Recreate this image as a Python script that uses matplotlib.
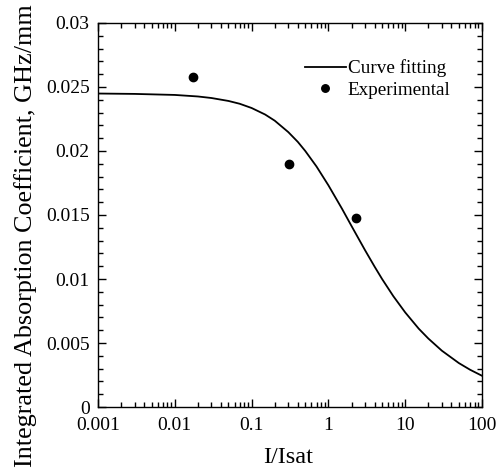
import matplotlib
matplotlib.use("Agg")
import matplotlib.pyplot as plt
from matplotlib.ticker import FixedLocator, LogLocator, MultipleLocator, NullFormatter

plt.rcParams['font.family'] = ['Liberation Serif', 'DejaVu Serif']

# Curve fitting values
fit_x = [0.001, 0.003, 0.01, 0.02, 0.03, 0.05, 0.07, 0.1, 0.15, 0.2, 0.3, 0.4, 0.5,
         0.7, 1, 1.5, 2, 3, 4, 5, 7, 10, 15, 20, 30, 50, 70, 100]
fit_y = [0.02449, 0.02446, 0.02438, 0.02426, 0.02414, 0.02391, 0.02369, 0.02336,
         0.02285, 0.02237, 0.02148, 0.02071, 0.02000, 0.01879, 0.01732, 0.01550,
         0.01414, 0.01225, 0.01096, 0.01000, 0.00866, 0.00739, 0.00612, 0.00535,
         0.00440, 0.00343, 0.00291, 0.00244]

# Experimental points
exp_x = [0.0171, 0.307, 2.29]
exp_y = [0.02576, 0.0190, 0.01474]

x_ticks = [0.001, 0.01, 0.1, 1, 10, 100]
x_tick_labels = ["0.001", "0.01", "0.1", "1", "10", "100"]
y_ticks = [0, 0.005, 0.01, 0.015, 0.02, 0.025, 0.03]
y_tick_labels = ["0", "0.005", "0.01", "0.015", "0.02", "0.025", "0.03"]

fig = plt.figure(figsize=(5.02, 4.76), dpi=100)
ax = fig.add_axes([98/502, 69/476, 384/502, 384/476])

ax.plot(fit_x, fit_y, color='black', lw=1.3, label='Curve fitting')
ax.plot(exp_x, exp_y, 'o', color='black', markersize=6, label='Experimental')

ax.set_xscale('log')
ax.set_xlim(0.001, 100)
ax.set_ylim(0, 0.03)

ax.xaxis.set_major_locator(FixedLocator(x_ticks))
ax.set_xticklabels(x_tick_labels)
ax.xaxis.set_minor_locator(LogLocator(base=10, subs=range(2, 10), numticks=20))
ax.xaxis.set_minor_formatter(NullFormatter())
ax.yaxis.set_major_locator(FixedLocator(y_ticks))
ax.set_yticklabels(y_tick_labels)
ax.yaxis.set_minor_locator(MultipleLocator(0.001))

ax.tick_params(which='both', direction='in', top=True, right=True, width=1, labelsize=14)
ax.tick_params(which='major', length=6)
ax.tick_params(which='minor', length=3.5)
ax.tick_params(axis='x', which='major', pad=7)
ax.tick_params(axis='y', which='major', pad=6)
for s in ax.spines.values():
    s.set_linewidth(1.0)

ax.set_xlabel('I/Isat', fontsize=17.5)
ax.set_ylabel('Integrated Absorption Coefficient, GHz/mm', fontsize=18.8)
ax.xaxis.set_label_coords(0.495, -0.105)
ax.yaxis.set_label_coords(-0.16, 0.445)

ax.legend(frameon=False, loc='upper left', bbox_to_anchor=(0.54, 0.905),
          fontsize=13.8, handlelength=2.1, handletextpad=0.1, labelspacing=0.2,
          borderpad=0, borderaxespad=0, markerscale=0.9)

fig.savefig('out.png', dpi=100)
